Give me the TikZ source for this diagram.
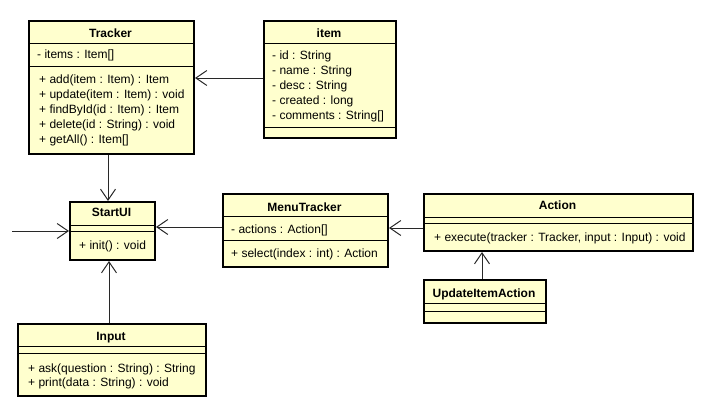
\documentclass[tikz,border=0pt]{standalone}
\usepackage{fontspec}
\setmainfont{Liberation Sans}
\usetikzlibrary{arrows.meta,calc}
\definecolor{clsfill}{RGB}{255,255,206}
\definecolor{linecol}{RGB}{40,40,40}
\tikzset{
  cls/.style={draw=black, line width=2pt, fill=clsfill, inner sep=0pt, anchor=north west},
  sepline/.style={draw=black, line width=0.9pt},
  ttl/.style={font=\fontsize{12}{15}\selectfont\bfseries, inner sep=0pt, anchor=base},
  txt/.style={font=\fontsize{12}{15}\selectfont, inner sep=0pt, anchor=base west},
  conn/.style={draw=linecol, line width=1pt, -{Straight Barb[length=11pt,width=15pt,line width=1pt]}},
}
\begin{document}
\begin{tikzpicture}[x=1pt,y=-1pt]
\useasboundingbox (0,0) rectangle (711,415);
% Tracker
\node[cls, minimum width=165pt, minimum height=133pt] (tracker) at (28,20) {};
\draw[sepline] (28,43) -- (193,43);
\draw[sepline] (28,66) -- (193,66);
\node[ttl] (trackerT) at (110.5,37) {Tracker};
\node[txt] (trA1) at (37,58) {- items : Item[]};
\node[txt] (trM1) at (39,83) {+ add(item : Item) : Item};
\node[txt] (trM2) at (39,98) {+ update(item : Item) : void};
\node[txt] (trM3) at (39,113) {+ findById(id : Item) : Item};
\node[txt] (trM4) at (39,128) {+ delete(id : String) : void};
\node[txt] (trM5) at (39,143) {+ getAll() : Item[]};
% item
\node[cls, minimum width=132pt, minimum height=117pt] (item) at (263,20) {};
\draw[sepline] (263,43) -- (395,43);
\draw[sepline] (263,127) -- (395,127);
\node[ttl] (itemT) at (329,37) {item};
\node[txt] (itA1) at (272,59) {- id : String};
\node[txt] (itA2) at (272,74) {- name : String};
\node[txt] (itA3) at (272,89) {- desc : String};
\node[txt] (itA4) at (272,104) {- created : long};
\node[txt] (itA5) at (272,119) {- comments : String[]};
% StartUI
\node[cls, minimum width=85pt, minimum height=58pt] (startui) at (69,201) {};
\draw[sepline] (69,225.5) -- (154,225.5);
\draw[sepline] (69,231.5) -- (154,231.5);
\node[ttl] (startuiT) at (111.5,216) {StartUI};
\node[txt] (suM1) at (79,249) {+ init() : void};
% MenuTracker
\node[cls, minimum width=165pt, minimum height=73pt] (menu) at (222,193) {};
\draw[sepline] (222,216) -- (387,216);
\draw[sepline] (222,240) -- (387,240);
\node[ttl] (menuT) at (304.5,211) {MenuTracker};
\node[txt] (mtA1) at (231,233) {- actions : Action[]};
\node[txt] (mtM1) at (231,257) {+ select(index : int) : Action};
% Action
\node[cls, minimum width=269pt, minimum height=57pt] (action) at (423,193) {};
\draw[sepline] (423,217) -- (692,217);
\draw[sepline] (423,223) -- (692,223);
\node[ttl] (actionT) at (557.5,209) {Action};
\node[txt] (acM1) at (434,241) {+ execute(tracker : Tracker, input : Input) : void};
% UpdateItemAction
\node[cls, minimum width=122pt, minimum height=43pt] (uia) at (423,279) {};
\draw[sepline] (423,303) -- (545,303);
\draw[sepline] (423,311) -- (545,311);
\node[ttl] (uiaT) at (484,297) {UpdateItemAction};
% Input
\node[cls, minimum width=188pt, minimum height=72pt] (input) at (17,323) {};
\draw[sepline] (17,346) -- (205,346);
\draw[sepline] (17,353) -- (205,353);
\node[ttl] (inputT) at (111,340) {Input};
\node[txt] (inM1) at (28,372) {+ ask(question : String) : String};
\node[txt] (inM2) at (28,386) {+ print(data : String) : void};
% connectors
\coordinate (ext) at (12,231);
\draw[conn] (item.west |- 0,78) -- (tracker.east |- 0,78);
\draw[conn] (tracker.south -| 108,0) -- (startui.north -| 108,0);
\draw[conn] (ext) -- (ext -| startui.west);
\draw[conn] (menu.west |- 0,227) -- (startui.east |- 0,227);
\draw[conn] (action.west |- 0,228) -- (menu.east |- 0,228);
\draw[conn] (uia.north -| 482,0) -- (action.south -| 482,0);
\draw[conn] (input.north -| 109,0) -- (startui.south -| 109,0);
\end{tikzpicture}
\end{document}
